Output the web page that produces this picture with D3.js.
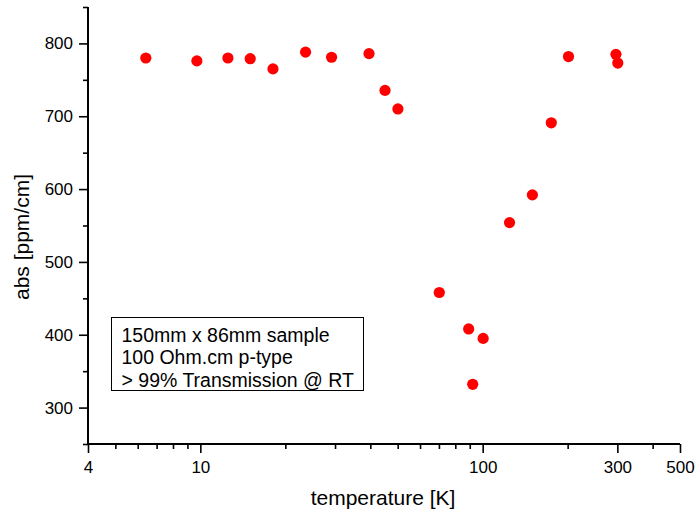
<!DOCTYPE html>
<html>
<head>
<meta charset="utf-8">
<script src="https://cdn.jsdelivr.net/npm/d3@7"></script>
<style>
  html, body { margin: 0; padding: 0; background: #fff; }
  svg text { font-family: "Liberation Sans", Arial, sans-serif; fill: #000; }
</style>
</head>
<body>
<svg id="chart" width="698" height="512"></svg>
<script>
// Data
const temperature = [6.41, 9.72, 12.52, 15.02, 18.08, 23.59, 29.16, 39.58, 45.1, 50.1, 70.2, 89.2, 100.4, 92.2, 124.5, 150, 175, 201.4, 296.5, 301];
const absorption  = [780, 776, 780, 779, 765, 788, 781, 786, 735.5, 710, 458, 408, 395, 332, 554, 592, 691, 782, 785, 773];

const xMajorTicks = [4, 10, 100, 300, 500];
const xMinorTicks = [5, 6, 7, 8, 9, 20, 30, 40, 50, 60, 70, 80, 90, 200, 400];
const yMajorTicks = [300, 400, 500, 600, 700, 800];
const yMinorTicks = [250, 350, 450, 550, 650, 750, 850];

const noteLines = ["150mm x 86mm sample", "100 Ohm.cm p-type", "> 99% Transmission @ RT"];
const xTitle = "temperature [K]";
const yTitle = "abs [ppm/cm]";

(function () {
const svg = d3.select("#chart");
const mLeft = 88, mRight = 680, mTop = 7, mBottom = 444;

const x = d3.scaleLog().domain([4, 500]).range([mLeft, mRight]);
const y = d3.scaleLinear().domain([250, 850]).range([mBottom, mTop]);

const fmt = d => String(d);

// X axis
const gx = svg.append("g").attr("transform", `translate(0,${mBottom})`);
gx.call(d3.axisBottom(x).tickValues(xMajorTicks).tickFormat(fmt).tickSize(9).tickPadding(8));
svg.append("g").attr("transform", `translate(0,${mBottom})`)
  .call(d3.axisBottom(x).tickValues(xMinorTicks).tickFormat("").tickSize(5))
  .call(g => g.select(".domain").remove());

// Y axis
const gy = svg.append("g").attr("transform", `translate(${mLeft},0)`);
gy.call(d3.axisLeft(y).tickValues(yMajorTicks).tickFormat(fmt).tickSize(9).tickPadding(6));
svg.append("g").attr("transform", `translate(${mLeft},0)`)
  .call(d3.axisLeft(y).tickValues(yMinorTicks).tickFormat("").tickSize(5))
  .call(g => g.select(".domain").remove());

svg.selectAll(".domain").attr("stroke", "#000").attr("stroke-width", 2);
svg.selectAll(".tick line").attr("stroke", "#000").attr("stroke-width", 1.6);
svg.selectAll(".tick text").attr("font-size", 17).attr("font-family", "Liberation Sans, Arial, sans-serif").attr("fill", "#000");
gy.selectAll(".domain").attr("d", `M0,${mBottom}V${mTop}`);
gx.selectAll(".domain").attr("d", `M${mLeft},0H${mRight}`);

// Titles
svg.append("text").attr("x", 383).attr("y", 505)
  .attr("text-anchor", "middle").attr("font-size", 21).text(xTitle);
svg.append("text").attr("transform", "translate(29,237) rotate(-90)")
  .attr("text-anchor", "middle").attr("font-size", 21).text(yTitle);

// Note box
const box = svg.append("g");
box.append("rect").attr("x", 111.5).attr("y", 317.5).attr("width", 252).attr("height", 73)
  .attr("fill", "#fff").attr("stroke", "#000").attr("stroke-width", 1);
box.selectAll("text.note").data(noteLines).join("text")
  .attr("class", "note")
  .attr("x", 121.5).attr("y", (d, i) => 341.5 + i * 22.6)
  .attr("font-size", 19.5).text(d => d);

// Points
svg.append("g").selectAll("circle")
  .data(temperature.map((t, i) => [t, absorption[i]]))
  .join("circle")
  .attr("cx", d => x(d[0]))
  .attr("cy", d => y(d[1]))
  .attr("r", 5.6)
  .attr("fill", "#ff0000");
})();
</script>
</body>
</html>
